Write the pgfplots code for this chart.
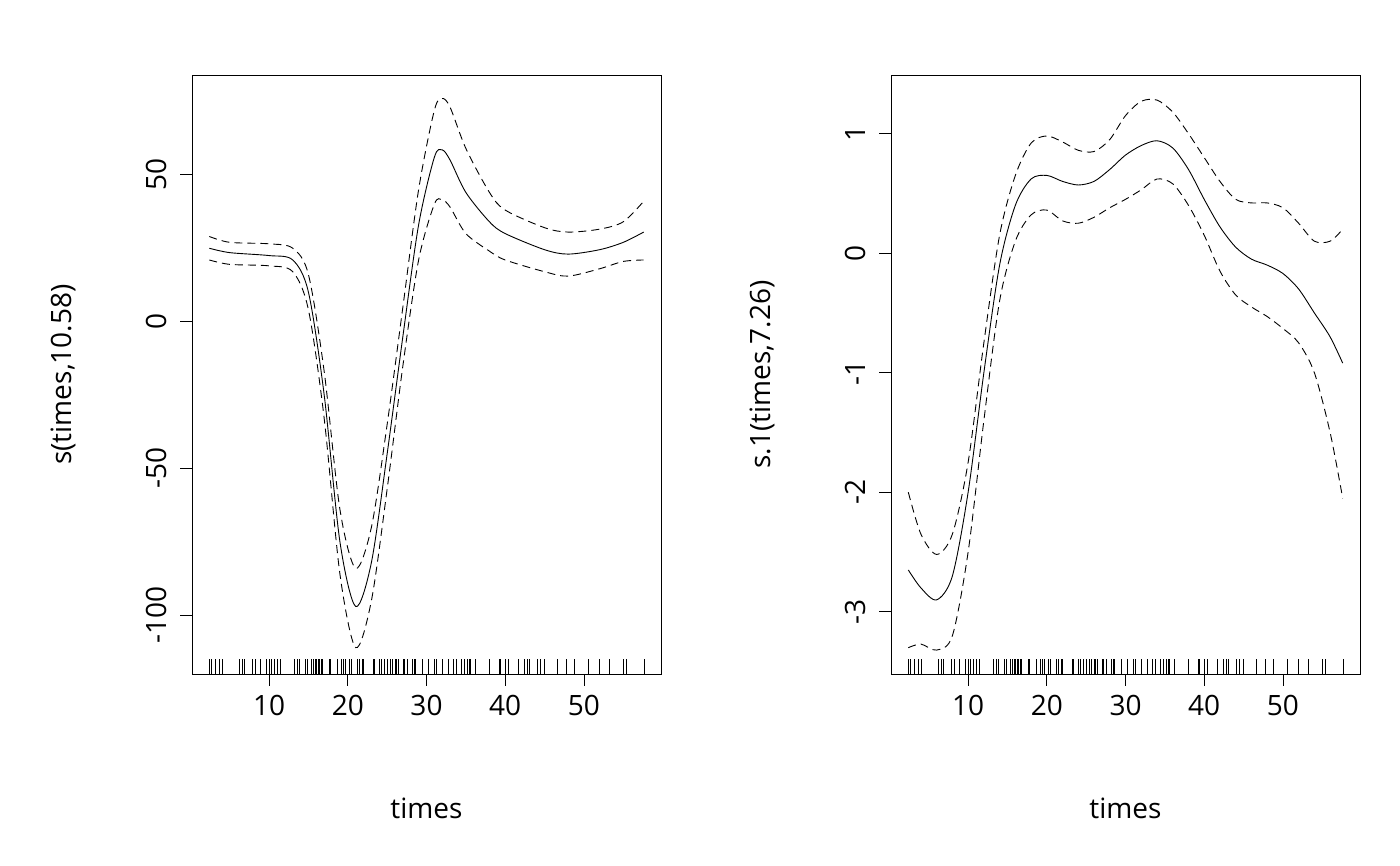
\documentclass[border=0pt]{standalone}
\usepackage{pgfplots}
\pgfplotsset{compat=1.18}
\usepackage{fontspec}
\setmainfont{Open Sans}
\begin{document}
\begin{tikzpicture}
\path[use as bounding box] (0pt,0pt) rectangle (1400pt,866pt);
\tikzset{dsh/.style={dash pattern=on 8pt off 5pt}}
\pgfplotsset{rs/.style={scale only axis, width=469pt, height=599pt, anchor=south west,
 axis x line*=bottom, axis y line*=left, tick align=outside, major tick length=12pt,
 every tick label/.append style={font=\fontsize{28}{32}\selectfont},
 /pgf/number format/assume math mode=true,
 yticklabel style={rotate=90, anchor=south, yshift=10pt},
 xticklabel style={yshift=-6pt},
 xmin=0.2, xmax=59.8, xtick={10,20,30,40,50},
 xlabel={times},
 every axis x label/.style={at={(axis description cs:0.5,-0.224)}, anchor=center, font=\fontsize{28}{32}\selectfont},
 every axis y label/.style={at={(axis description cs:-0.275,0.5)}, rotate=90, anchor=center, font=\fontsize{28}{32}\selectfont},
 tick style={black, line width=0.7pt},
 axis line style={line width=0.7pt}, clip=false}}
\def\rug{2.4,2.6,3.2,3.6,4.0,6.2,6.6,6.8,7.8,8.2,8.8,9.6,10.0,10.2,10.6,11.0,11.4,13.2,13.6,13.8,14.6,14.8,15.4,15.6,15.8,16.0,16.2,16.4,16.6,16.8,17.6,17.8,18.6,19.2,19.4,19.6,20.2,20.4,21.2,21.4,21.8,22.0,23.2,23.4,24.0,24.2,24.6,25.0,25.4,25.6,26.0,26.2,26.4,27.0,27.2,27.6,28.2,28.4,28.6,29.4,30.2,31.0,31.2,32.0,32.8,33.4,33.8,34.4,34.8,35.2,35.4,35.6,36.2,38.0,39.2,39.4,40.0,40.4,41.6,42.4,42.8,43.0,44.0,44.4,45.0,46.6,47.8,48.8,50.6,52.0,53.2,55.0,55.4,57.6}
\begin{axis}[rs, at={(192pt,192pt)}, ymin=-120, ymax=84, ytick={-100,-50,0,50}, ylabel={s(times,10.58)}]
\draw[line width=0.7pt] (rel axis cs:0,0) rectangle (rel axis cs:1,1);
\foreach \t in \rug {\edef\tmp{\noexpand\draw[line width=0.3pt] (axis cs:\t,-120) -- (axis cs:\t,-115);}\tmp}
\addplot[smooth, line width=0.9pt] coordinates {(2.4,25)(5,23.5)(10,22.5)(13,21)(15,10)(17,-25)(19,-75)(21,-97)(23,-82)(25,-45)(27,-5)(29,33)(31,56)(32,58.5)(33,55)(35,44)(38,34)(40,30)(45,24.5)(48,23)(52,24.5)(55,27)(57.6,30.5)};
\addplot[smooth, dsh, line width=0.9pt] coordinates {(2.4,29)(5,27)(10,26.5)(13,25)(15,16)(17,-17)(19,-64)(21,-84)(23,-70)(25,-35)(27,5)(29,45)(31,72)(32,76)(33,73)(35,59)(38,44)(40,38)(45,32)(48,30.5)(52,31.5)(55,34)(57.6,41)};
\addplot[smooth, dsh, line width=0.9pt] coordinates {(2.4,21)(5,19.5)(10,19)(13,17)(15,4)(17,-33)(19,-86)(21,-111)(23,-95)(25,-57)(27,-15)(29,21)(31,40)(32,41.5)(33,39)(35,30)(38,24)(40,21)(45,17)(48,15.5)(52,18)(55,20.5)(57.6,21)};
\end{axis}
\begin{axis}[rs, at={(891pt,192pt)}, ymin=-3.52, ymax=1.49, ytick={-3,-2,-1,0,1}, ylabel={s.1(times,7.26)}]
\draw[line width=0.7pt] (rel axis cs:0,0) rectangle (rel axis cs:1,1);
\foreach \t in \rug {\edef\tmp{\noexpand\draw[line width=0.3pt] (axis cs:\t,-3.52) -- (axis cs:\t,-3.397);}\tmp}
\addplot[smooth, line width=0.9pt] coordinates {(2.4,-2.65)(4,-2.8)(6,-2.9)(8,-2.7)(10,-2.0)(12,-1.0)(14,-0.1)(16,0.4)(18,0.62)(20,0.65)(22,0.6)(24,0.57)(26,0.6)(28,0.7)(30,0.82)(32,0.9)(34,0.94)(36,0.88)(38,0.7)(40,0.45)(42,0.22)(44,0.05)(46,-0.05)(48,-0.1)(50,-0.17)(52,-0.3)(54,-0.5)(56,-0.7)(57.6,-0.92)};
\addplot[smooth, dsh, line width=0.9pt] coordinates {(2.4,-2.0)(4,-2.35)(6,-2.52)(8,-2.35)(10,-1.75)(12,-0.75)(14,0.15)(16,0.65)(18,0.92)(20,0.98)(22,0.93)(24,0.86)(26,0.85)(28,0.95)(30,1.15)(32,1.27)(34,1.28)(36,1.18)(38,1.0)(40,0.8)(42,0.6)(44,0.45)(46,0.42)(48,0.42)(50,0.38)(52,0.25)(54,0.1)(56,0.1)(57.6,0.2)};
\addplot[smooth, dsh, line width=0.9pt] coordinates {(2.4,-3.3)(4,-3.27)(6,-3.32)(8,-3.2)(10,-2.5)(12,-1.4)(14,-0.4)(16,0.1)(18,0.32)(20,0.36)(22,0.27)(24,0.25)(26,0.3)(28,0.38)(30,0.45)(32,0.53)(34,0.62)(36,0.58)(38,0.4)(40,0.15)(42,-0.15)(44,-0.35)(46,-0.45)(48,-0.53)(50,-0.63)(52,-0.75)(54,-1.0)(56,-1.5)(57.6,-2.05)};
\end{axis}
\end{tikzpicture}
\end{document}
